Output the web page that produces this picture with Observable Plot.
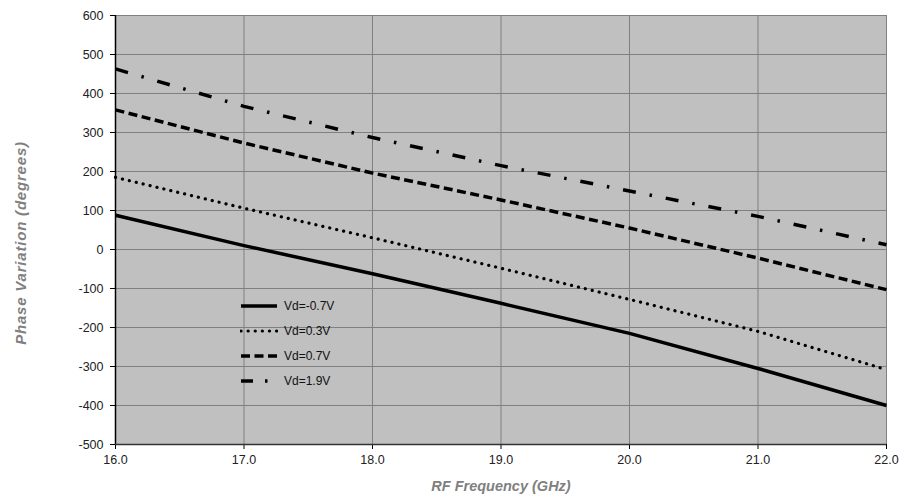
<!DOCTYPE html>
<html>
<head>
<meta charset="utf-8">
<script src="https://cdn.jsdelivr.net/npm/d3@7"></script>
<script src="https://cdn.jsdelivr.net/npm/@observablehq/plot@0.6"></script>
<style>
  html, body { margin: 0; padding: 0; background: #fff; }
  #wrap { position: relative; width: 901px; height: 503px; font-family: "Liberation Sans", Arial, sans-serif; }
  #legend { position: absolute; left: 240px; top: 293px; font-size: 12px; color: #111; }
  #legend .row { display: flex; align-items: center; height: 25px; }
  #legend svg { margin-right: 6px; }
  #ytitle { position: absolute; left: 20px; top: 243px; transform: translate(-50%, -50%) rotate(-90deg);
    white-space: nowrap; color: #808080; font-weight: bold; font-style: italic; font-size: 15px; letter-spacing: 0.8px; }
</style>
</head>
<body>
<div id="wrap"></div>
<script>
const freqs = [16, 17, 18, 19, 20, 21, 22];
const seriesNames = ["Vd=-0.7V", "Vd=0.3V", "Vd=0.7V", "Vd=1.9V"];
const vdMinus07 = [88, 10, -62, -138, -215, -305, -400];
const vd03 = [185, 106, 30, -48, -128, -210, -308];
const vd07 = [358, 273, 196, 127, 55, -22, -103];
const vd19 = [463, 367, 287, 215, 150, 85, 12];
const yTicks = [-500, -400, -300, -200, -100, 0, 100, 200, 300, 400, 500, 600];
const xTicks = [16, 17, 18, 19, 20, 21, 22];
const xTitle = "RF Frequency (GHz)";
const yTitle = "Phase Variation (degrees)";

const styles = [
  {stroke: "#000", strokeWidth: 3.5, dash: null, cap: "butt"},
  {stroke: "#000", strokeWidth: 3.2, dash: "0.1,7", cap: "round"},
  {stroke: "#000", strokeWidth: 3.5, dash: "9,4.5", cap: "butt"},
  {stroke: "#000", strokeWidth: 3.5, dash: "13,14,2.5,14", cap: "butt"}
];
const allSeries = [vdMinus07, vd03, vd07, vd19];
const rows = [];
allSeries.forEach((vals, i) => vals.forEach((v, j) => rows.push({series: seriesNames[i], x: freqs[j], y: v})));

const lineMarks = seriesNames.map((name, i) => Plot.line(rows.filter(r => r.series === name), {
  x: "x", y: "y", stroke: styles[i].stroke, strokeWidth: styles[i].strokeWidth,
  strokeDasharray: styles[i].dash, strokeLinecap: styles[i].cap, strokeLinejoin: "round"
}));

const chart = Plot.plot({
  width: 901,
  height: 503,
  marginLeft: 115,
  marginRight: 15,
  marginTop: 15,
  marginBottom: 59,
  style: {fontFamily: "'Liberation Sans', Arial, sans-serif", fontSize: "12.5px", color: "#222", background: "#fff"},
  x: {domain: [16, 22]},
  y: {domain: [-500, 600]},
  marks: [
    Plot.frame({fill: "#c0c0c0", stroke: null}),
    Plot.ruleY(yTicks, {stroke: "#808080", strokeWidth: 1}),
    Plot.ruleX(xTicks, {stroke: "#808080", strokeWidth: 1}),
    Plot.axisY({ticks: yTicks, tickSize: 5, tickPadding: 7, label: null, tickFormat: d => String(d), stroke: "#000"}),
    Plot.axisX({ticks: xTicks, tickSize: 5, tickPadding: 6, label: null, tickFormat: d3.format(".1f"), stroke: "#000"}),
    Plot.ruleX([16], {stroke: "#000", strokeWidth: 1.5}),
    Plot.ruleY([-500], {stroke: "#333", strokeWidth: 1.5}),
    ...lineMarks,
    Plot.text([xTitle], {frameAnchor: "bottom", dy: 46, fill: "#808080", fontWeight: "bold", fontStyle: "italic", fontSize: 14.5})
  ]
});

const wrap = document.getElementById("wrap");
wrap.appendChild(chart);

const yt = document.createElement("div");
yt.id = "ytitle";
yt.textContent = yTitle;
wrap.appendChild(yt);

const legend = document.createElement("div");
legend.id = "legend";
seriesNames.forEach((name, i) => {
  const row = document.createElement("div");
  row.className = "row";
  const s = styles[i];
  row.innerHTML = `<svg width="38" height="8"><line x1="1" y1="4" x2="37" y2="4" stroke="${s.stroke}" stroke-width="${s.strokeWidth}" ${s.dash ? `stroke-dasharray="${i === 3 ? '12,12,2.5,12' : s.dash}"` : ""} stroke-linecap="${s.cap}"/></svg><span>${name}</span>`;
  legend.appendChild(row);
});
wrap.appendChild(legend);
</script>
</body>
</html>
